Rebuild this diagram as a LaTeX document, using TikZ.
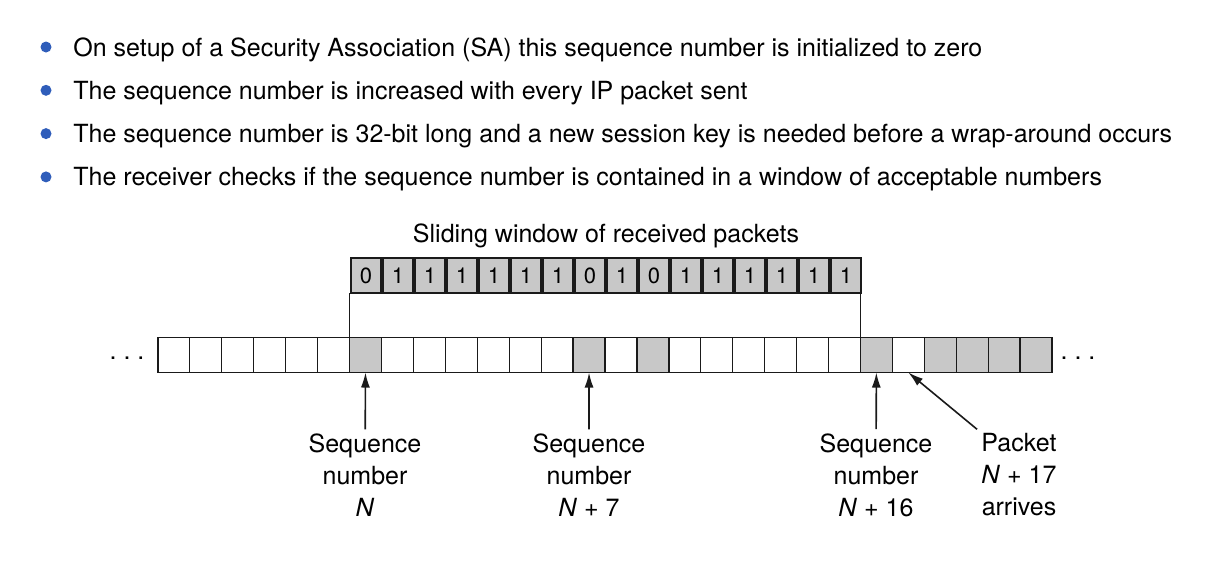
\documentclass[tikz,border=0pt]{standalone}
\usepackage{fontspec}
\setmainfont{TeX Gyre Heros}
\usetikzlibrary{arrows.meta,positioning}
\definecolor{ink}{HTML}{1A1A1A}
\definecolor{shade}{HTML}{C8C8C8}
\definecolor{dotblue}{HTML}{2F5DBA}
\tikzset{cell/.style={draw=ink,fill=white,line width=.6pt,minimum width=16pt,minimum height=17.5pt,inner sep=0pt,outer sep=0pt},bitcell/.style={cell,fill=shade,minimum width=15pt,font=\fontsize{11}{13}\selectfont},bodytext/.style={font=\fontsize{12.5}{16}\selectfont,inner sep=0pt},caption/.style={font=\fontsize{12.5}{16}\selectfont,align=center,inner sep=2pt},pointer/.style={draw=ink,line width=.8pt,-{Latex[length=7.5pt,width=4.5pt]}},bracket/.style={draw=ink,line width=.6pt},bulletdot/.style={circle,fill=dotblue,minimum size=5.5pt,inner sep=0pt}}
\begin{document}
\begin{tikzpicture}[x=0.5pt,y=-0.5pt]
\useasboundingbox (0,0) rectangle (1210,570);
\foreach \t [count=\k] in {{On setup of a Security Association (SA) this sequence number is initialized to zero},{The sequence number is increased with every IP packet sent},{The sequence number is 32-bit long and a new session key is needed before a wrap-around occurs},{The receiver checks if the sequence number is contained in a window of acceptable numbers}}{
\node[bulletdot] (b\k) at (46,{47+(\k-1)*43.3}) {};
\node[bodytext,anchor=base west] (t\k) at (73,{56+(\k-1)*43.3}) {\t};}
\node[caption] (title) at (606,236) {Sliding window of received packets};
\foreach \b [count=\k from 0] in {0,1,1,1,1,1,1,0,1,0,1,1,1,1,1,1}{\node[bitcell] (w\k) at ({350+(\k+.5)*32},275.5) {\b};}
\foreach \i in {0,1,2,3,4,5,7,8,9,10,11,12,14,16,17,18,19,20,21,23}{\node[cell] (c\i) at ({158+(\i+.5)*31.93},355) {};}
\foreach \i in {6,13,15,22,24,25,26,27}{\node[cell,fill=shade] (c\i) at ({158+(\i+.5)*31.93},355) {};}
\draw[bracket] (c6.north west) -- (c6.north west |- w0.south);
\draw[bracket] (c21.north east) -- (c21.north east |- w15.south);
\node[bodytext,anchor=base] (moreL) at (127,359) {.\ .\ .};
\node[bodytext,anchor=base] (moreR) at (1078,359) {.\ .\ .};
\node[caption] (seqN) at (365,475) {Sequence\\number\\\textit{N}};
\node[caption] (seqN7) at (589,475) {Sequence\\number\\\textit{N} + 7};
\node[caption] (seqN16) at (876,475) {Sequence\\number\\\textit{N} + 16};
\node[caption] (pktN17) at (1019,475) {Packet\\\textit{N} + 17\\arrives};
\foreach \u/\v in {seqN/c6,seqN7/c13,seqN16/c22}{\draw[pointer] (\u)--(\v);}
\draw[pointer] (pktN17.north west) -- (c23.south);
\end{tikzpicture}
\end{document}
